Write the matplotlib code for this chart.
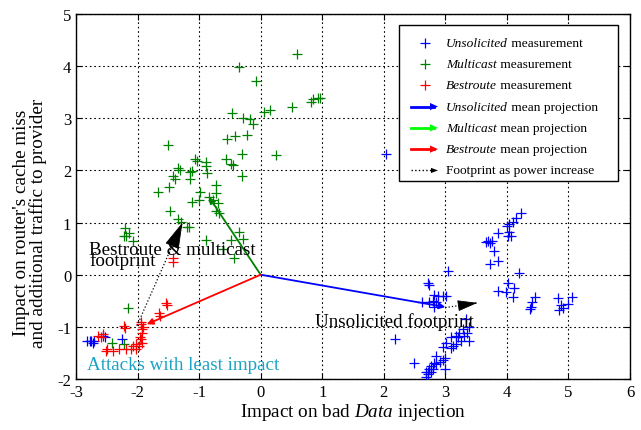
import matplotlib
matplotlib.use("Agg")
import matplotlib.pyplot as plt
from matplotlib.lines import Line2D
from matplotlib.patches import Polygon
from matplotlib.offsetbox import (AnchoredOffsetbox, DrawingArea, TextArea,
                                  HPacker, VPacker)

plt.rcParams['font.family'] = ['Liberation Serif', 'DejaVu Serif']
plt.rcParams['mathtext.fontset'] = 'custom'
plt.rcParams['mathtext.it'] = 'Liberation Serif:italic'
plt.rcParams['mathtext.rm'] = 'Liberation Serif'

# ---------------- data ----------------
unsol_x = [-2.82, -2.78, -2.75, -2.72, -2.70, -2.56, -2.53, -2.26, 2.03,
           4.23, 4.15, 4.10, 4.03, 4.00, 4.04, 4.06, 4.02, 3.85, 3.69, 3.66, 3.76, 3.72, 3.79,
           3.85, 3.72, 4.19, 4.02, 3.85, 3.98, 4.12, 4.10, 4.45, 4.41, 4.39, 4.38,
           4.83, 4.88, 4.85, 4.91, 4.99, 5.06, 3.04, 2.72, 2.73,
           2.82, 2.88, 2.96, 3.01, 2.85, 2.80, 2.74, 2.62, 2.82,
           3.33, 3.39, 3.36, 3.28, 3.23, 3.17, 3.10, 3.20, 3.26, 3.17, 3.10, 3.13, 3.38, 3.31, 3.01, 2.96,
           2.99, 2.96, 2.91, 2.85, 2.82, 2.77, 2.74, 2.72, 2.69, 2.77, 2.80, 2.85, 2.68, 2.72, 2.99, 2.49, 2.18]
unsol_y = [-1.27, -1.28, -1.27, -1.30, -1.27, -1.17, -1.20, -1.23, 2.31,
           1.18, 1.08, 1.02, 0.97, 0.93, 0.81, 0.75, 0.75, 0.80, 0.65, 0.62, 0.65, 0.61, 0.46,
           0.27, 0.21, 0.03, -0.16, -0.31, -0.33, -0.26, -0.43, -0.43, -0.53, -0.61, -0.66,
           -0.45, -0.59, -0.67, -0.63, -0.56, -0.43, 0.08, -0.16, -0.20,
           -0.39, -0.41, -0.40, -0.41, -0.53, -0.50, -0.52, -0.53, -0.61,
           -0.85, -1.01, -1.11, -1.04, -1.11, -1.17, -1.20, -1.20, -1.27, -1.33, -1.41, -1.37, -1.27, -1.17, -1.30, -1.39,
           -1.59, -1.63, -1.67, -1.55, -1.69, -1.75, -1.81, -1.86, -1.87, -1.87, -1.81, -1.71, -1.97, -1.91, -1.81, -1.70, -1.23]

multi_x = [0.59, -0.35, -0.07, 0.85, 0.93, 0.97, 0.82, 0.51, 0.06, 0.15, -0.46, -0.28, -0.17, -0.12,
           -0.54, -0.42, -0.23, 0.25, -1.50, -0.30, -0.56, -0.48, -0.45,
           -1.07, -1.03, -0.89, -0.88, -0.87, -1.35, -1.31, -1.42, -1.39, -1.14, -1.11, -1.15,
           -0.31, -1.49, -1.67, -0.73, -0.73, -0.99, -1.11, -1.00,
           -0.84, -0.77, -0.69, -0.72, -0.68, -1.48, -1.34, -1.29, -1.19, -1.16,
           -0.35, -0.48, -0.29, -0.89, -0.43, -0.62,
           -2.21, -2.18, -2.22, -2.14, -2.07, -2.16, -2.41, -2.22]
multi_y = [4.24, 3.99, 3.72, 3.37, 3.39, 3.39, 3.32, 3.21, 3.13, 3.15, 3.11, 3.00, 2.99, 2.89,
           2.60, 2.66, 2.67, 2.30, 2.49, 2.32, 2.21, 2.12, 2.10,
           2.22, 2.19, 2.16, 2.09, 1.95, 2.04, 2.00, 1.90, 1.84, 1.97, 1.98, 1.84,
           1.90, 1.69, 1.58, 1.72, 1.56, 1.58, 1.40, 1.43,
           1.49, 1.44, 1.38, 1.23, 1.18, 1.23, 1.07, 1.02, 0.91, 0.91,
           0.81, 0.67, 0.68, 0.67, 0.33, 0.49,
           0.89, 0.75, 0.75, 0.80, 0.65, -0.64, -1.30, -1.33]

best_x = [-1.43, -1.42, -1.54, -1.52, -1.65, -1.64, -2.22, -2.20,
          -1.95, -1.92, -1.92, -1.95, -1.92, -1.98, -2.03, -2.11, -2.19, -2.30, -2.40, -2.49, -2.51,
          -2.60, -2.65, -2.56, -1.94, -1.91, -2.08, -1.96, -2.02]
best_y = [0.33, 0.24, -0.54, -0.58, -0.74, -0.79, -0.98, -1.03,
          -0.95, -1.04, -1.11, -1.23, -1.30, -1.36, -1.43, -1.43, -1.43, -1.43, -1.46, -1.43, -1.46,
          -1.20, -1.17, -1.14, -0.90, -1.00, -1.36, -1.20, -1.33]

# mean projections (tips), origin at (0, 0)
proj_names = ['Unsolicited', 'Multicast', 'Bestroute']
proj_x = [3.00, -0.84, -1.85]
proj_y = [-0.62, 1.49, -0.95]

# footprint arrows: (start_x, start_y, end_x, end_y)
fp_best = [-2.01, -0.98, -1.27, 1.00]
fp_unsol = [3.00, -0.63, 3.52, -0.54]

xticks = [-3, -2, -1, 0, 1, 2, 3, 4, 5, 6]
yticks = [-2, -1, 0, 1, 2, 3, 4, 5]

# ---------------- figure ----------------
W, H = 641, 431
fig = plt.figure(figsize=(W / 100, H / 100), dpi=100)
ax = fig.add_axes([76 / W, 1 - 380 / H, (630 - 76) / W, (380 - 15) / H])

ms = 7
ax.plot(unsol_x, unsol_y, '+', color='blue', ms=ms, mew=0.9, zorder=3)
ax.plot(multi_x, multi_y, '+', color='#008000', ms=ms, mew=0.9, zorder=3)
ax.plot(best_x, best_y, '+', color='red', ms=ms, mew=0.9, zorder=3)

arrow_cols = ['blue', '#008000', 'red']
for px, py, c in zip(proj_x, proj_y, arrow_cols):
    ax.annotate('', xy=(px, py), xytext=(0, 0),
                arrowprops=dict(arrowstyle='-|>', color=c, lw=1.3,
                                mutation_scale=9, shrinkA=0, shrinkB=0), zorder=4)

for (sx, sy, ex, ey), msc in [(fp_best, 19), (fp_unsol, 14)]:
    ax.plot([sx, ex], [sy, ey], ':', color='black', lw=0.9, zorder=5)
    dx, dy = ex - sx, ey - sy
    ax.annotate('', xy=(ex, ey), xytext=(ex - 0.02 * dx, ey - 0.02 * dy),
                arrowprops=dict(arrowstyle='-|>,head_length=0.9,head_width=0.25',
                                color='black', lw=0.6, mutation_scale=msc,
                                shrinkA=0, shrinkB=0), zorder=5)

ax.text(-2.79, 0.37, 'Bestroute & multicast\nfootprint', fontsize=13.7, va='center',
        ha='left', linespacing=0.5, zorder=6)
ax.text(0.88, -0.89, 'Unsolicited footprint', fontsize=13.7, va='center', ha='left', zorder=6)
ax.text(-2.82, -1.73, 'Attacks with least impact', fontsize=13.7, va='center', ha='left',
        color='#1aa3c4', zorder=6)

ax.set_xlim(-3, 6)
ax.set_ylim(-2, 5)
ax.set_xticks(xticks)
ax.set_yticks(yticks)
ax.set_xticklabels([str(t) for t in xticks])
ax.set_yticklabels([str(t) for t in yticks])
ax.tick_params(direction='in', top=True, right=True, labelsize=12, length=4, width=0.8)
ax.grid(True, linestyle=(0, (1.5, 2.5)), color='black', lw=0.8)
ax.set_axisbelow(True)
for s in ax.spines.values():
    s.set_linewidth(1.0)

ax.set_xlabel('Impact on bad $\\mathit{Data}$ injection', fontsize=13.8, labelpad=1)
ax.set_ylabel("Impact on router's cache miss\nand additional traffic to provider",
              fontsize=13.8, linespacing=0.9)
ax.yaxis.set_label_coords(-0.053, 0.43)

# ---------------- legend (built from offset boxes) ----------------
P = 0.72  # px -> points
leg_fs = 9.6
row_h = 21.3 * P
da_w = 47 * P


def handle_area(kind, color):
    da = DrawingArea(da_w, row_h, 0, 0)
    yc = row_h / 2
    x0, x1 = 12 * P, 39 * P
    if kind == 'marker':
        da.add_artist(Line2D([(x0 + x1) / 2], [yc], ls='none', marker='+', color=color,
                             ms=ms, mew=0.9))
    elif kind == 'arrow':
        da.add_artist(Line2D([x0, x1 - 4 * P], [yc, yc], color=color, lw=2.0))
        da.add_artist(Polygon([[x1 - 8 * P, yc + 3.6 * P], [x1, yc], [x1 - 8 * P, yc - 3.6 * P]],
                              closed=True, color=color, lw=0))
    else:
        da.add_artist(Line2D([x0, x1 - 6 * P], [yc, yc], color='black', lw=1.0, ls=':'))
        da.add_artist(Polygon([[x1 - 7 * P, yc + 2.6 * P], [x1, yc], [x1 - 7 * P, yc - 2.6 * P]],
                              closed=True, color='black', lw=0))
    return da


entries = [('marker', 'blue', 'Unsolicited', ' measurement'),
           ('marker', '#008000', 'Multicast', ' measurement'),
           ('marker', 'red', 'Bestroute', ' measurement'),
           ('arrow', 'blue', 'Unsolicited', ' mean projection'),
           ('arrow', '#00ff00', 'Multicast', ' mean projection'),
           ('arrow', 'red', 'Bestroute', ' mean projection'),
           ('dotted', 'black', '', 'Footprint as power increase')]

rows = [DrawingArea(1, 7 * P, 0, 0)]
for kind, col, it, rest in entries:
    kids = [handle_area(kind, col)]
    if it:
        kids.append(TextArea(it, textprops=dict(fontsize=leg_fs, style='italic')))
    kids.append(TextArea(rest, textprops=dict(fontsize=leg_fs)))
    kids.append(DrawingArea(20 * P, 1, 0, 0))
    rows.append(HPacker(children=kids, align='center', pad=0, sep=0))

box = VPacker(children=rows, align='left', pad=0, sep=0)
anch = AnchoredOffsetbox(loc='upper right', child=box, pad=0, borderpad=0, frameon=True,
                         bbox_to_anchor=(618 / W, 1 - 26 / H), bbox_transform=fig.transFigure)
anch.patch.set_boxstyle('square', pad=0)
anch.patch.set_edgecolor('black')
anch.patch.set_linewidth(1.0)
anch.set_zorder(10)
ax.add_artist(anch)

fig.savefig('out.png', dpi=100)
